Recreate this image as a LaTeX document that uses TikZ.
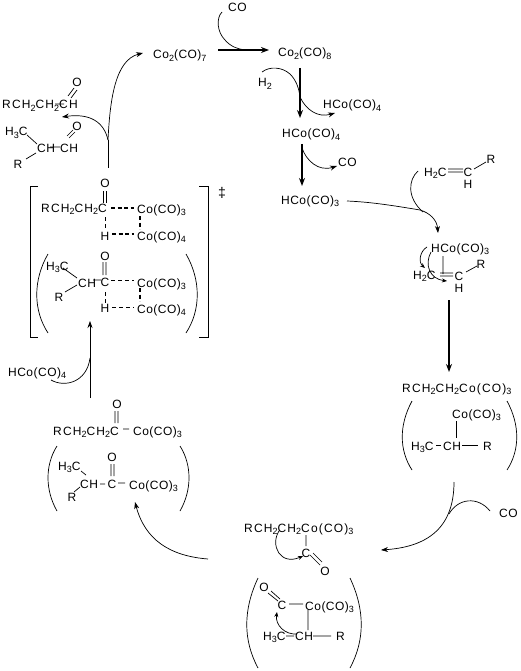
\documentclass[tikz,border=0pt]{standalone}
\usepackage{fontspec}
\setmainfont[LetterSpace=4]{Liberation Sans}
\usetikzlibrary{arrows.meta}
\newcommand\sbs[1]{\raisebox{-2.5pt}{\fontsize{9}{9}\selectfont #1}}
\tikzset{
 x=1pt,y=-1pt,
 lab/.style={anchor=base west,inner sep=0pt,font=\fontsize{12}{12}\selectfont},
 labw/.style={anchor=base west,inner sep=0pt,font=\fontsize{12}{12}\selectfont\addfontfeature{LetterSpace=10}},
 labc/.style={anchor=base,inner sep=0pt,font=\fontsize{12}{12}\selectfont},
 bond/.style={line width=0.7pt},
 thin arrow/.style={line width=0.7pt,-{Stealth[length=7pt,width=5pt]}},
 thick arrow/.style={line width=1.5pt,-{Stealth[length=8pt,width=6pt]}},
 curve/.style={line width=0.7pt},
 partial/.style={line width=0.7pt,dash pattern=on 4pt off 3pt},
 partial thick/.style={line width=1.3pt,dash pattern=on 4pt off 2.5pt},
 paren/.style={line width=0.7pt},
 brack/.style={line width=0.8pt},
}
\begin{document}
\begin{tikzpicture}
\useasboundingbox (0,0) rectangle (520,671);
\fill[white] (0,0) rectangle (520,671);
% --- top row
\node[lab] (coA) at (228,12) {CO};
\node[lab] (co27) at (153,59) {Co\sbs{2}(CO)\sbs{7}};
\node[lab] (co28) at (278,57) {Co\sbs{2}(CO)\sbs{8}};
\node[lab] (h2) at (258,87) {H\sbs{2}};
\node[lab] (hco4r) at (323,109) {HCo(CO)\sbs{4}};
\node[lab] (hco4m) at (282,138) {HCo(CO)\sbs{4}};
\node[lab] (coB) at (338,167) {CO};
\node[lab] (hco3) at (281,204) {HCo(CO)\sbs{3}};
\coordinate (a1) at (218,50); \coordinate (a1e) at (269,50);
\coordinate (a2) at (300,68); \coordinate (a2e) at (300,118);
\coordinate (a3) at (302,144); \coordinate (a3e) at (302,186);
\draw[thick arrow] (a1) -- (a1e);
\draw[thick arrow] (a2) -- (a2e);
\draw[thick arrow] (a3) -- (a3e);
\draw[curve] (222,12) .. controls (216,18) and (217,32) .. (225,40) .. controls (231,47) and (238,49) .. (245,50);
\draw[curve] (262,72) .. controls (270,66) and (282,67) .. (290,74) .. controls (296,80) and (299,88) .. (300,97);
\draw[thin arrow] (300,97) .. controls (306,110) and (318,118) .. (335,113);
\draw[thin arrow] (302,148) .. controls (306,160) and (318,172) .. (337,166);
% --- alkene
\node[lab] (h2cA) at (424,176) {H\sbs{2}C};
\node[labc] (cA) at (468,176) {C};
\node[labc] (hA) at (468,188) {H};
\node[labc] (rA) at (491,164) {R};
\draw[bond] (448,169)--(463,169) (448,172)--(463,172) (474,169)--(486,162);
\coordinate (a4) at (347,201); \coordinate (a4e) at (438,233);
\draw[thin arrow] (a4) .. controls (370,202) and (390,205) .. (420,210) .. controls (430,213) and (437,220) .. (a4e);
\draw[curve] (418,171) .. controls (408,180) and (407,198) .. (423,212);
% --- complex I
\node[lab] (hco3b) at (431,252) {HCo(CO)\sbs{3}};
\node[lab] (h2cB) at (413,279) {H\sbs{2}C};
\node[labc] (cB) at (459,280) {C};
\node[labc] (hB) at (459,292) {H};
\node[labc] (rB) at (481,268) {R};
\draw[bond] (443,256)--(443,274) (440,273)--(453,273) (440,276)--(453,276) (466,272)--(477,266);
\draw[line width=0.7pt,-{Stealth[length=5pt,width=4pt]}] (427,247) .. controls (420,251) and (418,262) .. (425,268);
\draw[line width=0.7pt,-{Stealth[length=5pt,width=4pt]}] (431,252) .. controls (424,265) and (430,279) .. (447,281);
\coordinate (a5) at (449,300); \coordinate (a5e) at (449,372);
\draw[thick arrow] (a5) -- (a5e);
% --- alkyl
\node[labw] (rco) at (402,392) {RCH\sbs{2}CH\sbs{2}Co(CO)\sbs{3}};
\node[lab] (co3c) at (452,418) {Co(CO)\sbs{3}};
\node[lab] (h3cC) at (411,450) {H\sbs{3}C};
\node[lab] (chC) at (443,450) {CH};
\node[lab] (rC) at (483,450) {R};
\draw[bond] (456,421)--(456,438) (436,445)--(441,445) (462,445)--(478,445);
\draw[paren] (412,401) .. controls (399,425) and (399,450) .. (412,470);
\draw[paren] (507,401) .. controls (520,425) and (520,450) .. (507,470);
\node[lab] (coC) at (499,517) {CO};
\coordinate (a6) at (454,482); \coordinate (a6e) at (381,550);
\draw[thin arrow] (a6) .. controls (454,530) and (425,547) .. (a6e);
\draw[curve] (490,511) .. controls (478,496) and (458,498) .. (449,514);
% --- acyl bottom
\node[labw] (rcoD) at (244,532) {RCH\sbs{2}CH\sbs{2}Co(CO)\sbs{3}};
\node[labc] (cD) at (306,557) {C};
\node[labc] (oD) at (325,575) {O};
\draw[bond] (306,535)--(306,546) (310,555)--(320,565) (313,553)--(322,562);
\draw[line width=0.7pt,-{Stealth[length=5pt,width=4pt]}] (279,531) .. controls (270,545) and (280,566) .. (303,556);
\node[labc] (oE) at (264,591) {O};
\node[labc] (cE) at (282,609) {C};
\node[lab] (coE) at (305,610) {Co(CO)\sbs{3}};
\node[lab] (h3cE) at (263,640) {H\sbs{3}C};
\node[lab] (chE) at (295,640) {CH};
\node[lab] (rE) at (336,640) {R};
\draw[bond] (268,593)--(278,601) (271,591)--(280,599) (289,604)--(303,604) (308,610)--(308,630) (286,636)--(294,636) (313,636)--(331,636);
\draw[line width=0.7pt,-{Stealth[length=5pt,width=4pt]}] (297,634) .. controls (285,635) and (275,625) .. (277,612);
\draw[paren] (258,578) .. controls (243,610) and (243,640) .. (258,668);
\draw[paren] (350,578) .. controls (365,610) and (365,640) .. (350,668);
\coordinate (a7) at (208,559); \coordinate (a7e) at (135,502);
\draw[thin arrow] (a7) .. controls (170,556) and (145,540) .. (a7e);
% --- left acyl
\node[labc] (oF) at (117,408) {O};
\node[labw] (rcoF) at (53,435) {RCH\sbs{2}CH\sbs{2}C};
\node[lab] (coF) at (133,435) {Co(CO)\sbs{3}};
\node[lab] (h3cG) at (58,470) {H\sbs{3}C};
\node[lab] (chG) at (80,488) {CH};
\node[labc] (cG) at (112,488) {C};
\node[labc] (oG) at (112,461) {O};
\node[lab] (coG) at (129,489) {Co(CO)\sbs{3}};
\node[labc] (rG) at (72,501) {R};
\draw[bond] (115,411)--(115,423) (118,411)--(118,423) (123,429)--(129,429) (81,471)--(86,475) (74,492)--(80,487) (100,484)--(105,484) (118,483)--(125,483) (111,464)--(111,476) (114,464)--(114,476);
\draw[paren] (57,446) .. controls (45,465) and (45,490) .. (57,511);
\draw[paren] (180,446) .. controls (192,465) and (192,490) .. (180,511);
\node[lab] (hco4l) at (8,376) {HCo(CO)\sbs{4}};
\coordinate (a8) at (90,398); \coordinate (a8e) at (90,321);
\draw[thin arrow] (a8) -- (a8e);
\draw[curve] (51,380) .. controls (65,388) and (87,382) .. (90,358);
% --- bracket
\draw[brack] (38,186)--(30,186)--(30,337)--(38,337);
\draw[brack] (199,186)--(208,186)--(208,337)--(199,337);
\node[labc,font=\fontsize{14}{14}\selectfont] (dag) at (222,197) {‡};
\node[labc] (oH) at (105,187) {O};
\node[labw] (rH) at (41,212) {RCH\sbs{2}CH\sbs{2}C};
\node[lab] (co3H) at (137,213) {Co(CO)\sbs{3}};
\node[labc] (hH) at (105,240) {H};
\node[lab] (co4H) at (137,240) {Co(CO)\sbs{4}};
\draw[bond] (103,191)--(103,203) (106,191)--(106,203);
\draw[partial] (105,217)--(105,228);
\draw[partial thick] (111,208)--(134,208) (112,234)--(134,234) (140,216)--(140,229);
\node[labc] (oI) at (105,260) {O};
\node[lab] (h3cI) at (46,270) {H\sbs{3}C};
\node[lab] (chI) at (78,287) {CH};
\node[labc] (rI) at (59,301) {R};
\node[labc] (cI) at (105,286) {C};
\node[lab] (co3I) at (137,287) {Co(CO)\sbs{3}};
\node[labc] (hI) at (105,312) {H};
\node[lab] (co4I) at (137,313) {Co(CO)\sbs{4}};
\draw[bond] (103,262)--(103,275) (106,262)--(106,275) (63,268)--(77,278) (65,292)--(77,285) (93,280)--(101,280);
\draw[partial] (111,280)--(134,280) (112,307)--(134,307) (105,292)--(105,303);
\draw[partial thick] (140,288)--(140,301);
\draw[paren] (48,254) .. controls (33,280) and (33,310) .. (48,333);
\draw[paren] (186,254) .. controls (201,280) and (201,310) .. (186,333);
% --- top left aldehydes
\node[labw] (rJ) at (2,109) {RCH\sbs{2}CH\sbs{2}CH};
\node[labc] (oJ) at (77,87) {O};
\node[lab] (h3cK) at (5,136) {H\sbs{3}C};
\node[lab] (chK) at (37,153) {CH};
\node[lab] (chL) at (60,153) {CH};
\node[labc] (oL) at (77,131) {O};
\node[labc] (rK) at (18,168) {R};
\draw[bond] (68,96)--(74,88) (71,98)--(77,90) (67,136)--(73,130) (69,138)--(75,132) (27,135)--(37,144) (26,159)--(36,153) (50,147)--(60,147) (55,104)--(64,104);
\coordinate (a9) at (108,168); \coordinate (a9e) at (62,117); \coordinate (a10e) at (143,53);
\draw[curve] (a9) -- (108,140);
\draw[thin arrow] (108,140) .. controls (104,122) and (90,113) .. (a9e);
\draw[thin arrow] (108,140) .. controls (110,100) and (115,60) .. (a10e);
\end{tikzpicture}
\end{document}
